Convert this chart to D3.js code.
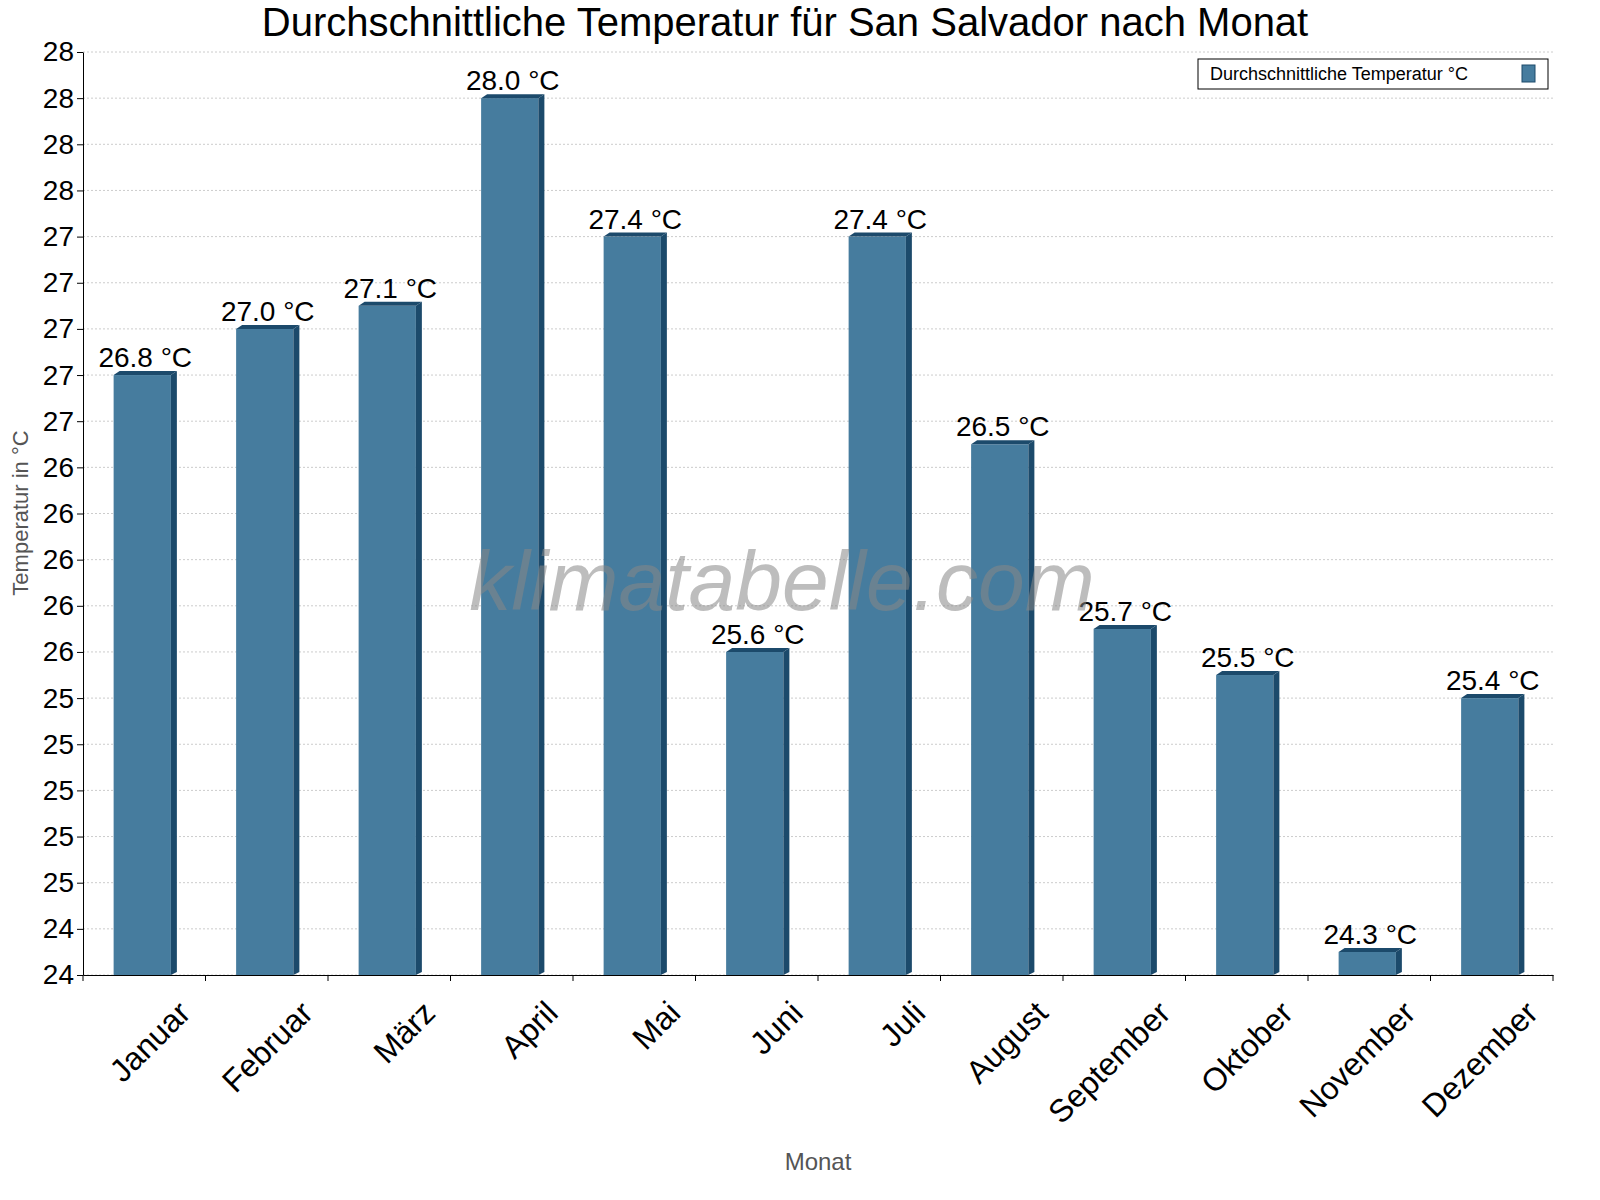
<!DOCTYPE html><html><head><meta charset="utf-8"><script src="https://cdn.jsdelivr.net/npm/d3@7"></script>
<style>body{margin:0;background:#fff}</style></head><body><svg id="c" width="1600" height="1200"></svg>
<script>
const months=["Januar","Februar","März","April","Mai","Juni","Juli","August","September","Oktober","November","Dezember"];
const temps=[26.8,27.0,27.1,28.0,27.4,25.6,27.4,26.5,25.7,25.5,24.3,25.4];
const tickValues=d3.range(0,21).map(i=>24.2+i*0.2);
const svg=d3.select("#c");
const L=83,R=1553,T=52,B=975;
const x=d3.scaleBand().domain(months).range([L,R]).paddingInner(0.5).paddingOuter(0.25);
const y=d3.scaleLinear().domain([24.2,28.2]).range([B,T]);
const F="Liberation Sans, Arial, sans-serif";
svg.append("g").selectAll("line").data(tickValues).join("line")
 .attr("x1",L).attr("x2",R).attr("y1",d=>y(d)).attr("y2",d=>y(d))
 .attr("stroke","#ccc").attr("stroke-dasharray","2,2");
const g=svg.append("g").selectAll("g").data(temps).join("g");
const w=x.bandwidth()-4;
g.append("rect").attr("x",(d,i)=>x(months[i])).attr("y",d=>y(d)).attr("width",w).attr("height",d=>B-y(d)).attr("fill","#467c9e");
g.append("polygon").attr("points",(d,i)=>{const a=x(months[i]),t=y(d);return `${a},${t} ${a+6},${t-4} ${a+w+6},${t-4} ${a+w},${t}`}).attr("fill","#1c4a6b");
g.append("polygon").attr("points",(d,i)=>{const a=x(months[i])+w,t=y(d);return `${a},${t} ${a+6},${t-4} ${a+6},${B-3} ${a},${B}`}).attr("fill","#1c4a6b");
svg.append("text").attr("x",782).attr("y",610).attr("text-anchor","middle").attr("font-family",F)
 .attr("font-style","italic").attr("font-size",84).attr("fill","#888").attr("opacity",0.55).text("klimatabelle.com");
g.append("text").attr("x",(d,i)=>x(months[i])+w/2+3).attr("y",d=>y(d)-8).attr("text-anchor","middle")
 .attr("font-family",F).attr("font-size",28).text(d=>d.toFixed(1)+" °C");
const ya=svg.append("g").attr("transform",`translate(${L},0)`).call(d3.axisLeft(y).tickValues(tickValues).tickFormat(d=>Math.round(d)).tickSizeOuter(0));
ya.selectAll("text").attr("font-family",F).attr("font-size",28).attr("fill","#000");
const xa=svg.append("g").attr("transform",`translate(0,${B})`).call(d3.axisBottom(x).tickSize(0).tickSizeOuter(0));
xa.selectAll("text").attr("font-family",F).attr("font-size",32).attr("fill","#000")
 .attr("text-anchor","end").attr("x",0).attr("y",0).attr("dy","0.35em").attr("transform","translate(40,32) rotate(-45)");
svg.append("g").selectAll("line").data(d3.range(0,13)).join("line")
 .attr("x1",i=>L+i*(R-L)/12).attr("x2",i=>L+i*(R-L)/12).attr("y1",B).attr("y2",B+6).attr("stroke","#000");
svg.append("text").attr("x",785).attr("y",36).attr("text-anchor","middle").attr("font-family",F).attr("font-size",40).text("Durchschnittliche Temperatur für San Salvador nach Monat");
svg.append("text").attr("transform","translate(28,513) rotate(-90)").attr("text-anchor","middle").attr("font-family",F).attr("font-size",22).attr("fill","#555").text("Temperatur in °C");
svg.append("text").attr("x",818).attr("y",1170).attr("text-anchor","middle").attr("font-family",F).attr("font-size",24).attr("fill","#555").text("Monat");
svg.append("rect").attr("x",1198).attr("y",59).attr("width",350).attr("height",30).attr("fill","#fff").attr("stroke","#000");
svg.append("text").attr("x",1210).attr("y",80).attr("font-family",F).attr("font-size",18).text("Durchschnittliche Temperatur °C");
svg.append("rect").attr("x",1522).attr("y",65).attr("width",13).attr("height",17).attr("fill","#467c9e").attr("stroke","#1c4a6b");
</script></body></html>
